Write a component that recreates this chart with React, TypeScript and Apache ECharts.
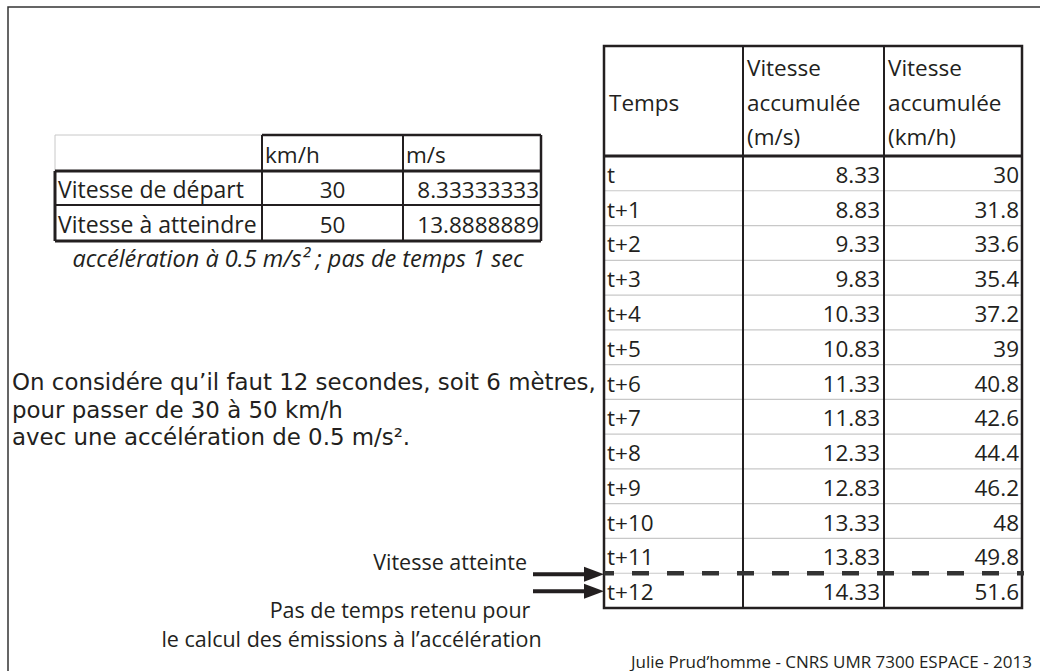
import React, { useEffect, useRef } from "react";
import * as echarts from "echarts";

const temps = ["t", "t+1", "t+2", "t+3", "t+4", "t+5", "t+6", "t+7", "t+8", "t+9", "t+10", "t+11", "t+12"];
const vitesseMs = ["8.33", "8.83", "9.33", "9.83", "10.33", "10.83", "11.33", "11.83", "12.33", "12.83", "13.33", "13.83", "14.33"];
const vitesseKmh = ["30", "31.8", "33.6", "35.4", "37.2", "39", "40.8", "42.6", "44.4", "46.2", "48", "49.8", "51.6"];
const bigHeaders = [["Temps"], ["Vitesse", "accumulée", "(m/s)"], ["Vitesse", "accumulée", "(km/h)"]];
const smallHeaders = ["", "km/h", "m/s"];
const smallRows = [
  ["Vitesse de départ", "30", "8.33333333"],
  ["Vitesse à atteindre", "50", "13.8888889"],
];
const caption = "accélération à 0.5 m/s² ; pas de temps 1 sec";
const paragraph = [
  "On considére qu’il faut 12 secondes, soit 6 mètres,",
  "pour passer de 30 à 50 km/h",
  "avec une accélération de 0.5 m/s².",
];
const labelReached = "Vitesse atteinte";
const labelRetained = ["Pas de temps retenu pour", "le calcul des émissions à l’accélération"];
const credit = "Julie Prud’homme - CNRS UMR 7300 ESPACE - 2013";
const reachedIndex = 11;

const FONT = "'Open Sans', 'Noto Sans', sans-serif";
const PFONT = "'DejaVu Sans', sans-serif";
const INK = "#231f20";
const TS = 22.5;

function txt(x: number, y: number, text: string, size: number, align = "left", extra: any = {}) {
  return {
    type: "text",
    x,
    y,
    silent: true,
    style: {
      text,
      fontSize: size,
      fontFamily: FONT,
      fill: INK,
      align,
      verticalAlign: "middle",
      ...extra,
    },
  };
}
function ln(x1: number, y1: number, x2: number, y2: number, w: number, color = INK, extra: any = {}) {
  return {
    type: "line",
    silent: true,
    shape: { x1, y1, x2, y2 },
    style: { stroke: color, lineWidth: w, ...extra },
  };
}

export default function App() {
  const ref = useRef<HTMLDivElement>(null);
  useEffect(() => {
    if (!ref.current) return;
    const chart = echarts.init(ref.current, null, { renderer: "svg" });
    const g: any[] = [];

    // outer frame
    g.push({ type: "rect", silent: true, shape: { x: 8, y: 7, width: 1100, height: 700 }, style: { fill: "none", stroke: "#333", lineWidth: 1.5 } });

    // ---- small table
    const sx = [55, 262, 403, 541];
    const sy = [135, 171, 205, 241];
    g.push(ln(sx[0], sy[0], sx[1], sy[0], 1, "#c8c8c8"));
    g.push(ln(sx[0], sy[0], sx[0], sy[1], 1, "#c8c8c8"));
    g.push(ln(sx[1], sy[0], sx[3], sy[0], 2.5));
    g.push(ln(sx[3], sy[0], sx[3], sy[3], 2.5));
    g.push(ln(sx[0], sy[1], sx[3], sy[1], 3));
    g.push(ln(sx[0], sy[1], sx[0], sy[3], 3));
    g.push(ln(sx[0], sy[3], sx[3], sy[3], 3));
    g.push(ln(sx[0], sy[2], sx[3], sy[2], 2));
    g.push(ln(sx[1], sy[0], sx[1], sy[3], 2));
    g.push(ln(sx[2], sy[0], sx[2], sy[3], 2));
    smallHeaders.forEach((h, i) => {
      if (h) g.push(txt(sx[i] + 3, (sy[0] + sy[1]) / 2 + 1, h, TS));
    });
    smallRows.forEach((r, i) => {
      const cy = (sy[i + 1] + sy[i + 2]) / 2 + 1;
      g.push(txt(sx[0] + 3, cy, r[0], 23));
      g.push(txt((sx[1] + sx[2]) / 2, cy, r[1], TS, "center"));
      g.push(txt(sx[3] - 2, cy, r[2], TS, "right"));
    });
    g.push(txt(298, 258, caption, 23.5, "center", { fontStyle: "italic" }));

    // paragraph
    paragraph.forEach((p, i) => g.push(txt(12, 382 + i * 27.5, p, 22.9, "left", { fontFamily: PFONT })));

    // ---- big table
    const bx = [604, 743, 884, 1022];
    const by0 = 46;
    const byH = 156;
    const byEnd = 608;
    const rowH = (byEnd - byH) / temps.length;
    for (let i = 1; i < temps.length; i++) {
      const y = byH + i * rowH;
      g.push(ln(bx[0], y, bx[3], y, 1.2, "#c8c8c8"));
    }
    g.push(ln(bx[1], by0, bx[1], byEnd, 2));
    g.push(ln(bx[2], by0, bx[2], byEnd, 2));
    g.push(ln(bx[0], byH, bx[3], byH, 3));
    g.push({ type: "rect", silent: true, shape: { x: bx[0], y: by0, width: bx[3] - bx[0], height: byEnd - by0 }, style: { fill: "none", stroke: INK, lineWidth: 2.5 } });
    const hLineY = [67, 102, 136];
    bigHeaders.forEach((h, i) => {
      if (h.length === 1) g.push(txt(bx[i] + 5, 102, h[0], TS));
      else h.forEach((s, j) => g.push(txt(bx[i] + 4, hLineY[j], s, TS)));
    });
    temps.forEach((t, i) => {
      const cy = byH + (i + 0.5) * rowH + 1;
      g.push(txt(bx[0] + 3, cy, t, TS));
      g.push(txt(bx[2] - 4, cy, vitesseMs[i], TS, "right"));
      g.push(txt(bx[3] - 3, cy, vitesseKmh[i], TS, "right"));
    });
    const dy = byH + (reachedIndex + 1) * rowH;
    g.push(ln(bx[0], dy, bx[3] + 2, dy, 4.5, "#333", { lineDash: [17, 18], lineDashOffset: 7 }));

    const arrow = (y: number) => {
      g.push(ln(533, y, 588, y, 4));
      g.push({ type: "polygon", silent: true, shape: { points: [[604, y], [584, y - 7.5], [584, y + 7.5]] }, style: { fill: INK } });
    };
    arrow(dy + 1);
    arrow(dy + 18);

    g.push(txt(527, 561, labelReached, 21.5, "right"));
    g.push(txt(400, 609, labelRetained[0], 21.5, "center"));
    g.push(txt(351.5, 638, labelRetained[1], 21.5, "center"));
    g.push(txt(1032, 661, credit, 17, "right"));

    chart.setOption({ animation: false, backgroundColor: "#ffffff", graphic: { elements: g } });
    return () => chart.dispose();
  }, []);
  return <div ref={ref} style={{ position: "absolute", left: 0, top: 0, width: 1040, height: 671 }} />;
}
